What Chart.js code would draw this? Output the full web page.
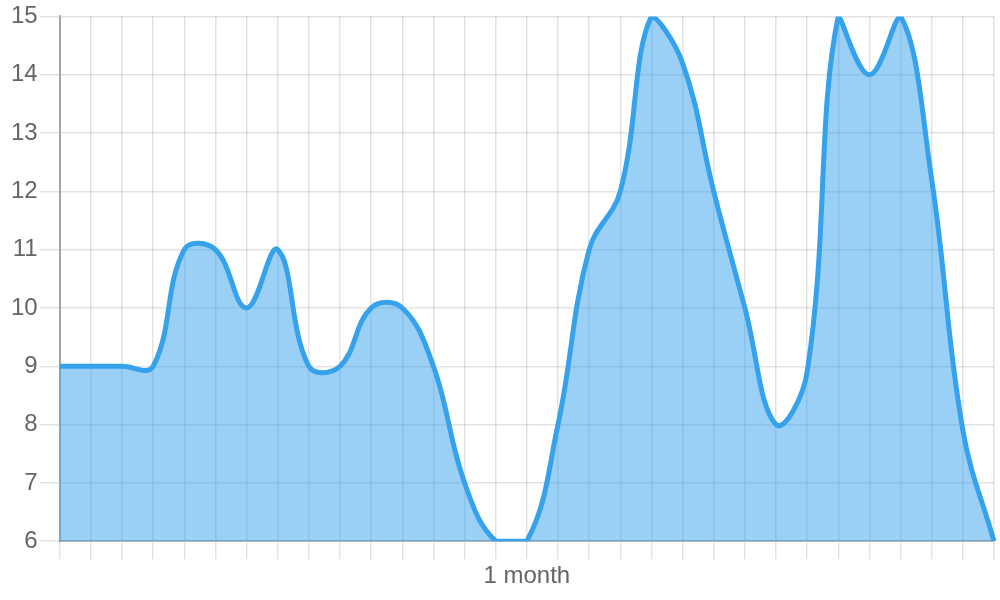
<!DOCTYPE html>
<html>
<head>
<meta charset="utf-8">
<script src="https://cdn.jsdelivr.net/npm/chart.js@4"></script>
<style>
  html, body { margin: 0; padding: 0; background: #fff; }
  .wrap { width: 1000px; height: 600px; }
</style>
</head>
<body>
<div class="wrap"><canvas id="chart" width="1000" height="600"></canvas></div>
<script>
// x labels: one label only, in the middle
var labels = ['', '', '', '', '', '', '', '', '', '', '', '', '', '', '', '1 month',
  '', '', '', '', '', '', '', '', '', '', '', '', '', '', ''];

var values = [9, 9, 9, 9, 11, 11, 10, 11, 9, 9, 10, 10, 9, 7, 6, 6,
  8, 11, 12, 15, 14.2, 12, 10, 8, 8.9, 15, 14, 15, 12.2, 7.9, 6];

var yMin = 6;
var yMax = 15;

var font = { family: "'Liberation Sans', Arial, sans-serif", size: 24 };

new Chart(document.getElementById('chart'), {
  type: 'line',
  data: {
    labels: labels,
    datasets: [{
      data: values,
      borderColor: '#36a2eb',
      backgroundColor: 'rgba(54,162,235,0.5)',
      borderWidth: 5,
      fill: 'start',
      tension: 0.4,
      pointRadius: 0
    }]
  },
  options: {
    responsive: false,
    animation: false,
    layout: { padding: { left: 9, right: 6, top: 0, bottom: 6 } },
    plugins: {
      legend: { display: false },
      tooltip: { enabled: false }
    },
    scales: {
      x: {
        grid: { color: 'rgba(0,0,0,0.11)', tickLength: 18, lineWidth: 1.5 },
        border: { color: 'rgba(0,0,0,0.25)', width: 2 },
        ticks: { autoSkip: false, maxRotation: 0, color: '#666', font: font, padding: 3 }
      },
      y: {
        min: yMin,
        max: yMax,
        grid: { color: 'rgba(0,0,0,0.11)', tickLength: 20, lineWidth: 1.5 },
        border: { color: 'rgba(0,0,0,0.3)', width: 2 },
        ticks: { stepSize: 1, color: '#666', font: font, padding: 2 }
      }
    }
  }
});
</script>
</body>
</html>
